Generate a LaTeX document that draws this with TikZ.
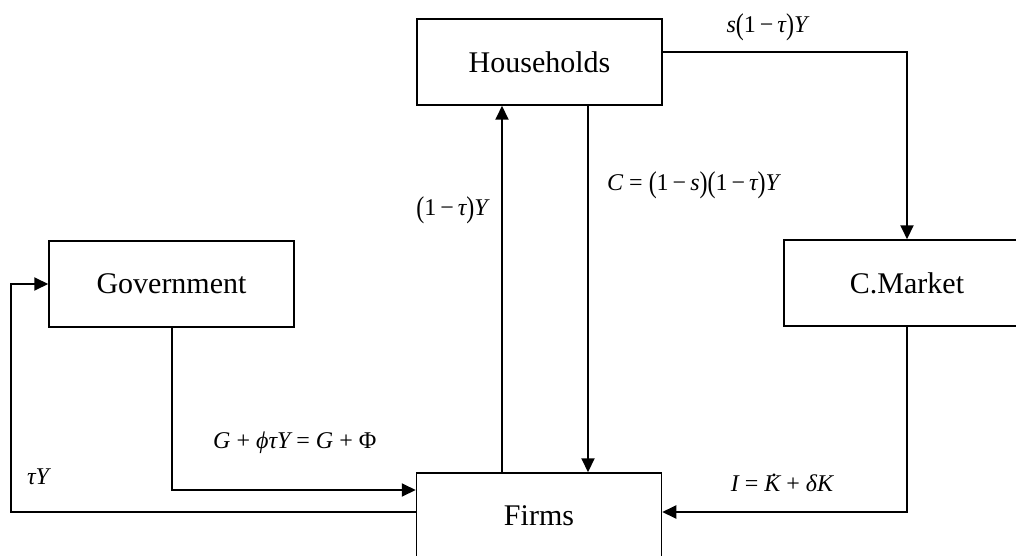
\documentclass[tikz,border=0pt]{standalone}
\usepackage{fontspec}
\setmainfont{Liberation Serif}
\usetikzlibrary{arrows.meta,calc}
\newcommand{\vi}[1]{{\itshape #1}}
\newcommand{\lp}{\raisebox{-0.07em}{\scalebox{1}[1.25]{(}}}
\newcommand{\rp}{\raisebox{-0.07em}{\scalebox{1}[1.25]{)}}}
\newcommand{\kdot}{\ooalign{\vi{K}\cr\hidewidth\kern0.15em\raisebox{0.62em}{.}\hidewidth\cr}}
\begin{document}
\begin{tikzpicture}[x=1pt,y=-1pt,
  box/.style={draw,line width=1.5pt,minimum width=245pt,minimum height=86pt,inner sep=0pt,font=\fontsize{30}{32}\selectfont},
  arr/.style={line width=2pt,-{Triangle[length=14pt,width=13pt]}},
  lbl/.style={inner sep=0pt,font=\fontsize{24}{26}\selectfont}]
\useasboundingbox (0,0) rectangle (1016,556);
\node[box] (hh) at (539.5,62) {Households};
\node[box] (gv) at (171.5,284) {Government};
\node[box,minimum width=246pt] (cm) at (907,283) {C.Market};
\node[box] (fi) at (539,516) {Firms};
\coordinate (lc) at (11,512);
\draw[arr] ([yshift=10pt]hh.east) -| (cm.north);
\draw[arr] (cm.south) |- ([yshift=4pt]fi.east);
\draw[arr] ([xshift=-37pt]fi.north) -- ([xshift=-37.5pt]hh.south);
\draw[arr] ([xshift=48.5pt]hh.south) -- ([xshift=49pt]fi.north);
\draw[arr] (gv.south) |- ([yshift=26pt]fi.west);
\draw[arr] ([yshift=4pt]fi.west) -| (lc) |- (gv.west);
\node[lbl] (l1) at (767,27) {\vi{s}\lp1\,−\,\vi{τ}\rp\vi{Y}};
\node[lbl,anchor=west] (l2) at (607,185) {\vi{C} = \lp1\,−\,\vi{s}\rp\lp1\,−\,\vi{τ}\rp\vi{Y}};
\node[lbl] (l3) at (452,210) {\lp1\,−\,\vi{τ}\rp\vi{Y}};
\node[lbl,anchor=west] (l4) at (213,443) {\vi{G} + \vi{ϕτY} = \vi{G} + Φ};
\node[lbl] (l5) at (782,483) {\vi{I} = \kdot\ + \vi{δK}};
\node[lbl] (l6) at (38,477) {\vi{τY}};
\end{tikzpicture}
\end{document}
